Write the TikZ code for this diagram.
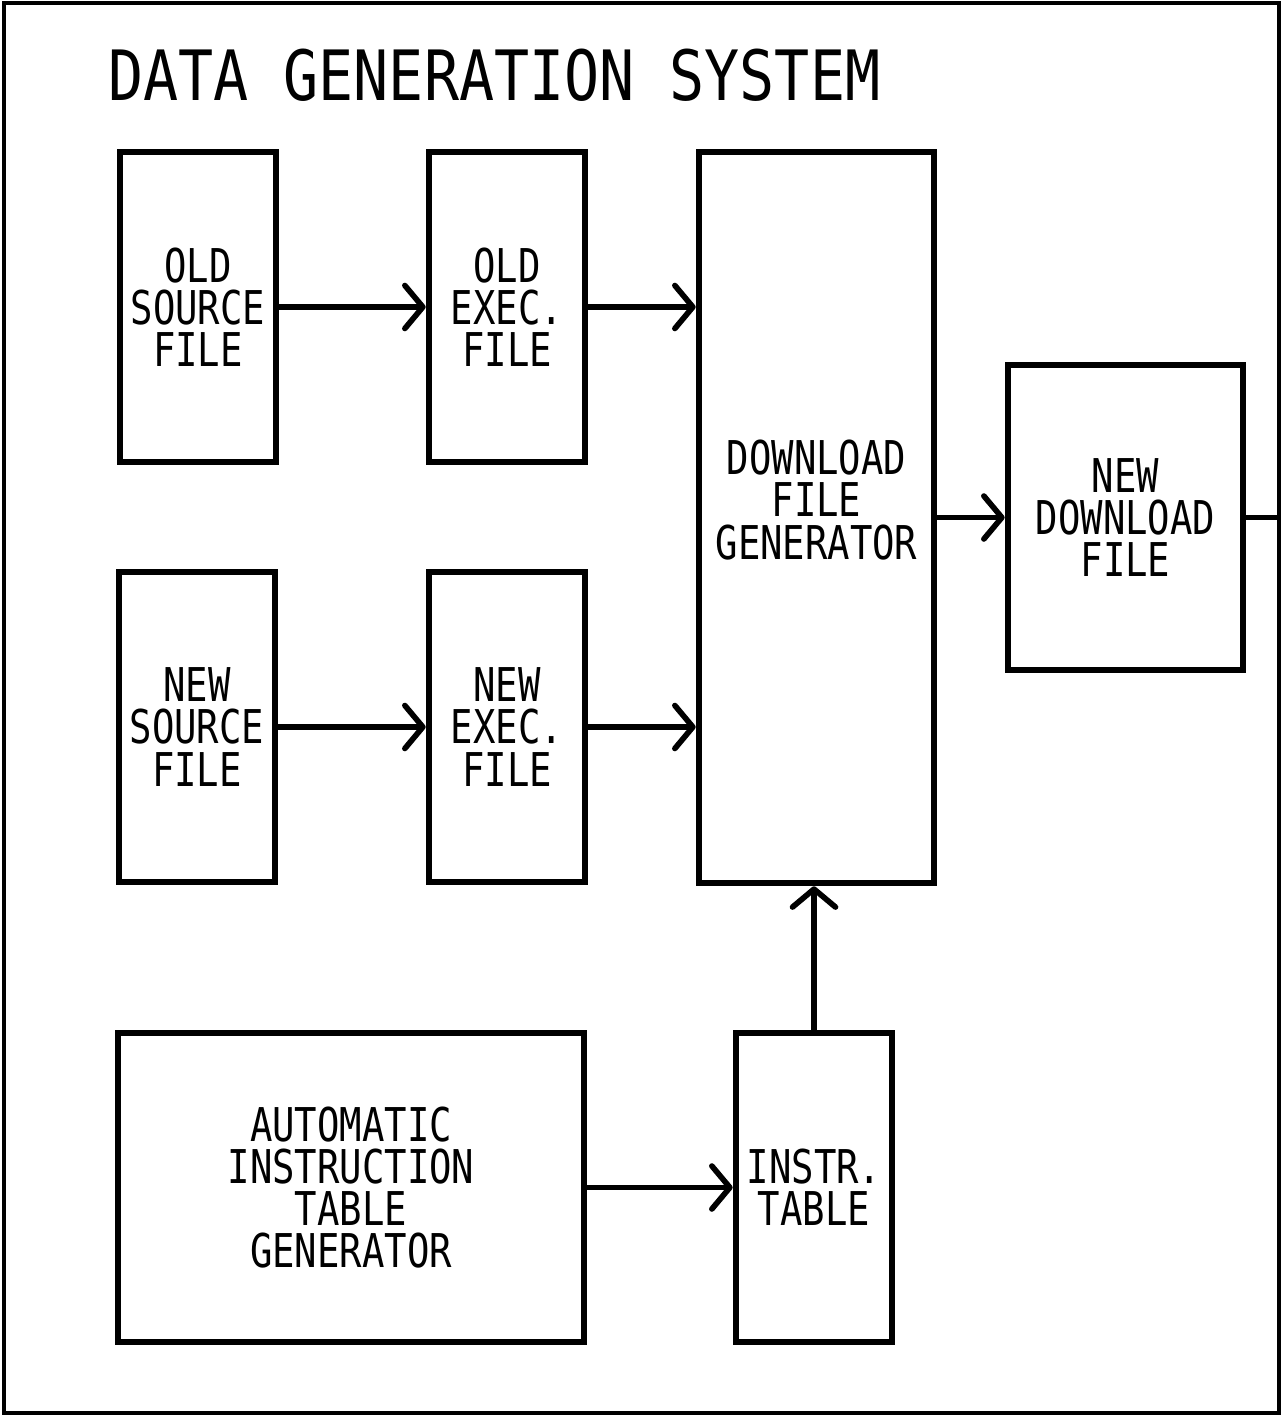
\documentclass[tikz,border=0pt]{standalone}
\usepackage{fontspec}
\usepackage{tikz}
\usetikzlibrary{positioning, arrows.meta}
\newfontfamily\plotfont{DejaVu Sans Mono}[FakeStretch=0.8]
\newfontfamily\titlefont{DejaVu Sans Mono}[FakeStretch=0.84]

\tikzset{
  block/.style={draw, line width=3.8pt, inner sep=0pt, align=center,
                font=\plotfont\fontsize{26.5}{24}\selectfont},
  flow/.style={line width=3.2pt,
               -{Straight Barb[length=0.36cm, width=0.86cm, round]}},
}

\begin{document}
\begin{tikzpicture}[x=0.02cm, y=-0.02cm]
  \useasboundingbox (0,0) rectangle (1283,1416);
  \draw[line width=2.6pt] (4,3) rectangle (1279,1413);
  \coordinate (rim) at (1279,519);

  \node[anchor=base west, font=\titlefont\fontsize{39.5}{44}\selectfont]
    (title) at (102,101) {DATA GENERATION SYSTEM};

  \node[block, minimum width=3.12cm, minimum height=6.2cm] (oldsrc) at (198,307) {OLD\\SOURCE\\FILE};
  \node[block, minimum width=3.12cm, minimum height=6.2cm] (oldexe) at (507,307) {OLD\\EXEC.\\FILE};
  \node[block, minimum width=3.12cm, minimum height=6.2cm] (newsrc) at (197,727) {NEW\\SOURCE\\FILE};
  \node[block, minimum width=3.12cm, minimum height=6.2cm] (newexe) at (507,727) {NEW\\EXEC.\\FILE};
  \node[block, minimum width=4.7cm, minimum height=14.62cm] (dfg) at (816.5,517.5) {};
  \node[align=center, inner sep=0pt, font=\plotfont\fontsize{26.5}{24}\selectfont]
    (dfgtext) at (816.5,500) {DOWNLOAD\\FILE\\GENERATOR};
  \node[block, minimum width=4.7cm, minimum height=6.1cm] (newdl) at (1125.5,517.5) {NEW\\DOWNLOAD\\FILE};
  \node[block, minimum width=9.32cm, minimum height=6.18cm] (autogen) at (351,1187.5)
    {AUTOMATIC\\INSTRUCTION\\TABLE\\GENERATOR};
  \node[block, minimum width=3.12cm, minimum height=6.18cm] (instr) at (814,1187.5) {INSTR.\\TABLE};

  \draw[flow] (oldsrc) -- (oldexe);
  \draw[flow] (newsrc) -- (newexe);
  \draw[flow] (oldexe.east) -- (oldexe.east -| dfg.west);
  \draw[flow] (newexe.east) -- (newexe.east -| dfg.west);
  \draw[flow] (dfg.east |- newdl.west) -- (newdl.west);
  \draw[line width=3.2pt] (newdl.east) -- (newdl.east -| rim);
  \draw[flow] (autogen) -- (instr);
  \draw[flow] (instr.north) -- (instr.north |- dfg.south);
\end{tikzpicture}
\end{document}
